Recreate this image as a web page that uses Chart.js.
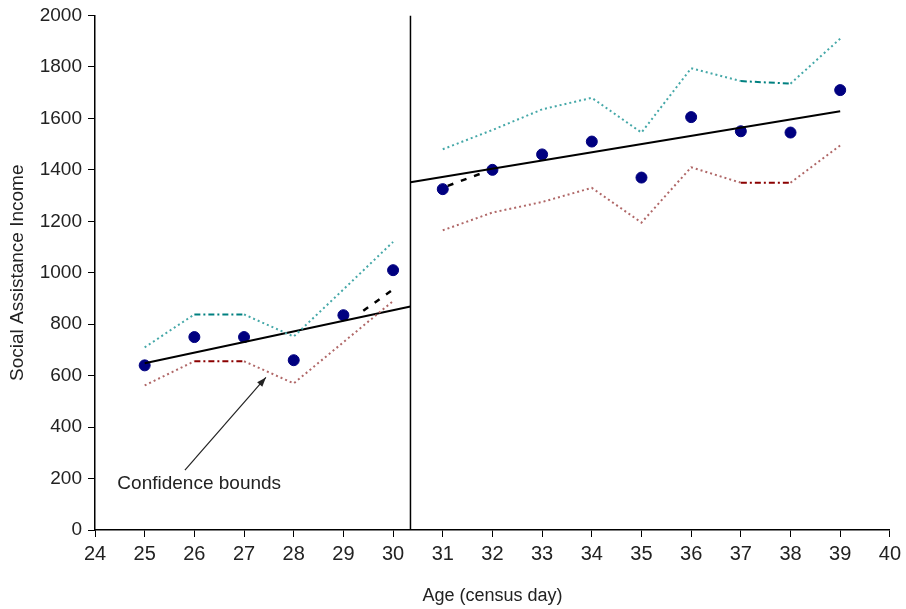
<!DOCTYPE html>
<html>
<head>
<meta charset="utf-8">
<script src="https://cdn.jsdelivr.net/npm/chart.js@4.4.0/dist/chart.umd.min.js"></script>
<style>
  body { margin: 0; background: #fff; }
  #wrap { width: 906px; height: 609px; }
</style>
</head>
<body>
<div id="wrap"><canvas id="chart"></canvas></div>
<script>
// ages on census day
const ages = [25, 26, 27, 28, 29, 30, 31, 32, 33, 34, 35, 36, 37, 38, 39];
const income = [640, 750, 750, 660, 835, 1010, 1325, 1400, 1460, 1510, 1370, 1605, 1550, 1545, 1710];
const upperBound = [710, 838, 838, 752, 935, 1120, 1480, 1555, 1635, 1680, 1545, 1795, 1745, 1735, 1910];
const lowerBound = [562, 656, 656, 570, 730, 890, 1165, 1234, 1275, 1330, 1195, 1410, 1350, 1350, 1495];

const cutoff = 30.35;
const leftFit = [[25, 648], [cutoff, 869]];
const rightFit = [[cutoff, 1352], [39, 1628]];
const leftCurve = [[29.4, 852], [30, 935]];
const rightCurve = [[31.1, 1338], [31.8, 1388]];

const xTicks = [24, 25, 26, 27, 28, 29, 30, 31, 32, 33, 34, 35, 36, 37, 38, 39, 40];

const leftIdx = ages.map((a, i) => i).filter(i => ages[i] <= 30);
const rightIdx = ages.map((a, i) => i).filter(i => ages[i] > 30);
const pts = (xs, ys, idx) => idx.map(i => ({ x: xs[i], y: ys[i] }));
const pairs = p => p.map(q => ({ x: q[0], y: q[1] }));

// the 26-27 and 37-38 bound segments are drawn dashed in the original
const boundSegment = (dark) => ({
    borderDash: ctx => {
        const a = ctx.p0.parsed.x;
        return (a === 26 || a === 37) ? [6, 3, 2, 3] : [2, 3];
    },
    borderColor: ctx => {
        const a = ctx.p0.parsed.x;
        return (a === 26 || a === 37) ? dark : undefined;
    }
});

const annotation = {
    id: 'annotation',
    afterDraw(chart) {
        const { ctx, scales: { x, y } } = chart;
        const x0 = x.getPixelForValue(25.81), y0 = y.getPixelForValue(233);
        const x1 = x.getPixelForValue(27.44), y1 = y.getPixelForValue(593);
        ctx.save();
        ctx.strokeStyle = '#222';
        ctx.fillStyle = '#222';
        ctx.lineWidth = 1.2;
        ctx.beginPath();
        ctx.moveTo(x0, y0);
        ctx.lineTo(x1, y1);
        ctx.stroke();
        const ang = Math.atan2(y1 - y0, x1 - x0);
        ctx.beginPath();
        ctx.moveTo(x1, y1);
        ctx.lineTo(x1 - 10 * Math.cos(ang - 0.35), y1 - 10 * Math.sin(ang - 0.35));
        ctx.lineTo(x1 - 10 * Math.cos(ang + 0.35), y1 - 10 * Math.sin(ang + 0.35));
        ctx.closePath();
        ctx.fill();
        ctx.font = '19px "Liberation Sans", Arial, sans-serif';
        ctx.fillStyle = '#222';
        ctx.textAlign = 'left';
        ctx.textBaseline = 'middle';
        ctx.fillText('Confidence bounds', x.getPixelForValue(24.45), y.getPixelForValue(178));
        ctx.restore();
    }
};

new Chart(document.getElementById('chart'), {
    type: 'scatter',
    data: {
        datasets: [
            {
                label: 'upper left',
                data: pts(ages, upperBound, leftIdx),
                showLine: true, pointRadius: 0,
                borderColor: '#45a8a8', borderWidth: 2, borderDash: [2, 3],
                segment: boundSegment('#008080')
            },
            {
                label: 'upper right',
                data: pts(ages, upperBound, rightIdx),
                showLine: true, pointRadius: 0,
                borderColor: '#45a8a8', borderWidth: 2, borderDash: [2, 3],
                segment: boundSegment('#008080')
            },
            {
                label: 'lower left',
                data: pts(ages, lowerBound, leftIdx),
                showLine: true, pointRadius: 0,
                borderColor: '#b06868', borderWidth: 2, borderDash: [2, 3],
                segment: boundSegment('#8b0000')
            },
            {
                label: 'lower right',
                data: pts(ages, lowerBound, rightIdx),
                showLine: true, pointRadius: 0,
                borderColor: '#b06868', borderWidth: 2, borderDash: [2, 3],
                segment: boundSegment('#8b0000')
            },
            {
                label: 'fit left',
                data: pairs(leftFit),
                showLine: true, pointRadius: 0,
                borderColor: '#000', borderWidth: 2
            },
            {
                label: 'fit right',
                data: pairs(rightFit),
                showLine: true, pointRadius: 0,
                borderColor: '#000', borderWidth: 2
            },
            {
                label: 'curve left',
                data: pairs(leftCurve),
                showLine: true, pointRadius: 0,
                borderColor: '#000', borderWidth: 2.5, borderDash: [6, 8]
            },
            {
                label: 'curve right',
                data: pairs(rightCurve),
                showLine: true, pointRadius: 0,
                borderColor: '#000', borderWidth: 2.5, borderDash: [6, 8]
            },
            {
                label: 'cutoff',
                data: [{ x: cutoff, y: 0 }, { x: cutoff, y: 2000 }],
                showLine: true, pointRadius: 0,
                borderColor: '#000', borderWidth: 1.5
            },
            {
                label: 'Social Assistance Income',
                data: pts(ages, income, ages.map((a, i) => i)),
                pointRadius: 5.5, pointHoverRadius: 5.5,
                backgroundColor: '#000080', borderColor: '#000080'
            }
        ]
    },
    options: {
        animation: false,
        responsive: true,
        maintainAspectRatio: false,
        layout: { padding: { left: 0, right: 16, top: 14, bottom: 0 } },
        plugins: {
            legend: { display: false },
            tooltip: { enabled: false }
        },
        scales: {
            x: {
                type: 'linear',
                min: 24, max: 40,
                afterBuildTicks: s => { s.ticks = xTicks.map(v => ({ value: v })); },
                afterFit: s => { s.height = 79; },
                border: { display: true, color: '#000', width: 1.5 },
                grid: { drawOnChartArea: false, color: '#000', tickLength: 7 },
                ticks: {
                    color: '#222', padding: 5,
                    callback: v => String(v),
                    font: { family: '"Liberation Sans Narrow", "Liberation Sans", Arial', size: 20 }
                },
                title: {
                    display: true, text: 'Age (census day)', color: '#222', padding: { top: 4, bottom: 2 },
                    font: { family: '"Liberation Sans", Arial', size: 18 }
                }
            },
            y: {
                min: 0, max: 2000,
                afterFit: s => { s.width = 95; },
                border: { display: true, color: '#000', width: 1.5 },
                grid: { drawOnChartArea: false, color: '#000', tickLength: 7 },
                ticks: {
                    stepSize: 200, color: '#222', padding: 6,
                    callback: v => String(v),
                    font: { family: '"Liberation Sans", Arial', size: 19, lineHeight: 1 }
                },
                title: {
                    display: true, text: 'Social Assistance Income', color: '#222',
                    padding: { top: 6, bottom: 0 },
                    font: { family: '"Liberation Sans", Arial', size: 19 }
                }
            }
        }
    },
    plugins: [annotation]
});
</script>
</body>
</html>
